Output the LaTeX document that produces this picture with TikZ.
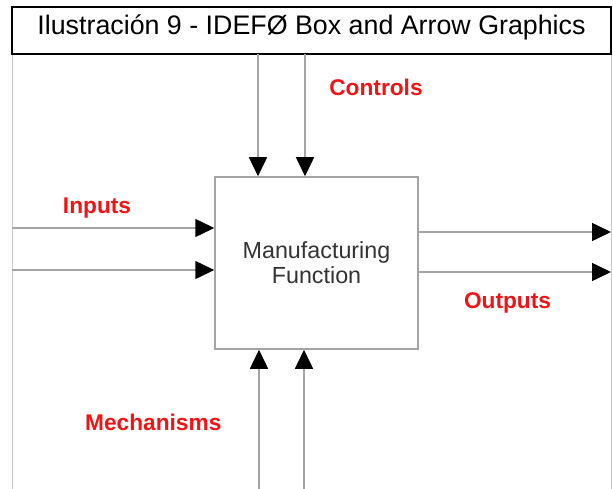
\documentclass[tikz,border=0pt]{standalone}
\usepackage{fontspec}
\setmainfont{Liberation Sans}
\usetikzlibrary{arrows.meta}
\definecolor{linegray}{HTML}{A4A4A4}
\definecolor{framegray}{HTML}{C8C8C8}
\definecolor{labelred}{HTML}{F21414}
\definecolor{boxtext}{HTML}{333333}
\tikzset{
  titlebox/.style={draw=black, line width=1.5pt, fill=white, inner sep=0pt,
    minimum width=599pt, minimum height=47pt, text height=13.6pt, text depth=6pt,
    font=\fontsize{26.8}{30}\selectfont},
  funcbox/.style={draw=linegray, line width=1.5pt, fill=white, inner sep=0pt,
    minimum width=203pt, minimum height=172pt, align=center, text=boxtext,
    font=\fontsize{23.3}{25}\selectfont},
  flow/.style={draw=linegray, line width=1.5pt,
    -{Triangle[length=19pt, width=18pt, color=black, fill=black]}},
  frameline/.style={draw=framegray, line width=1.5pt},
  arrowlabel/.style={anchor=base, text=labelred, inner sep=0pt,
    font=\fontsize{22.7}{26}\selectfont\bfseries}
}
\begin{document}
\begin{tikzpicture}[x=1pt, y=-1pt]
  \useasboundingbox (0,0) rectangle (613,489);

  % outer frame sides below the caption
  \draw[frameline] (12.5,54) -- (12.5,489);
  \draw[frameline] (611.5,54) -- (611.5,489);

  % caption box
  \node[titlebox] (title) at (311.5,30.5) {Ilustración 9 - IDEFØ Box and Arrow Graphics};

  % activity box
  \node[funcbox] (box) at (316.5,263) {Manufacturing\\Function};

  % free ends of the ICOM arrows
  \coordinate (ctl1) at (258,54);
  \coordinate (ctl2) at (305,54);
  \coordinate (in1) at (12,228);
  \coordinate (in2) at (12,270);
  \coordinate (out1) at (611,232);
  \coordinate (out2) at (611,272);
  \coordinate (mec1) at (259,489);
  \coordinate (mec2) at (304,489);

  % controls
  \draw[flow] (ctl1) -- (ctl1 |- box.north);
  \draw[flow] (ctl2) -- (ctl2 |- box.north);
  % inputs
  \draw[flow] (in1) -- (in1 -| box.west);
  \draw[flow] (in2) -- (in2 -| box.west);
  % outputs
  \draw[flow] (out1 -| box.east) -- (out1);
  \draw[flow] (out2 -| box.east) -- (out2);
  % mechanisms
  \draw[flow] (mec1) -- (mec1 |- box.south);
  \draw[flow] (mec2) -- (mec2 |- box.south);

  % arrow labels
  \node[arrowlabel] (lblcontrols) at (376,96) {Controls};
  \node[arrowlabel] (lblinputs) at (97,213.5) {Inputs};
  \node[arrowlabel] (lbloutputs) at (507.5,308) {Outputs};
  \node[arrowlabel] (lblmech) at (153.3,430.5) {Mechanisms};
\end{tikzpicture}
\end{document}
